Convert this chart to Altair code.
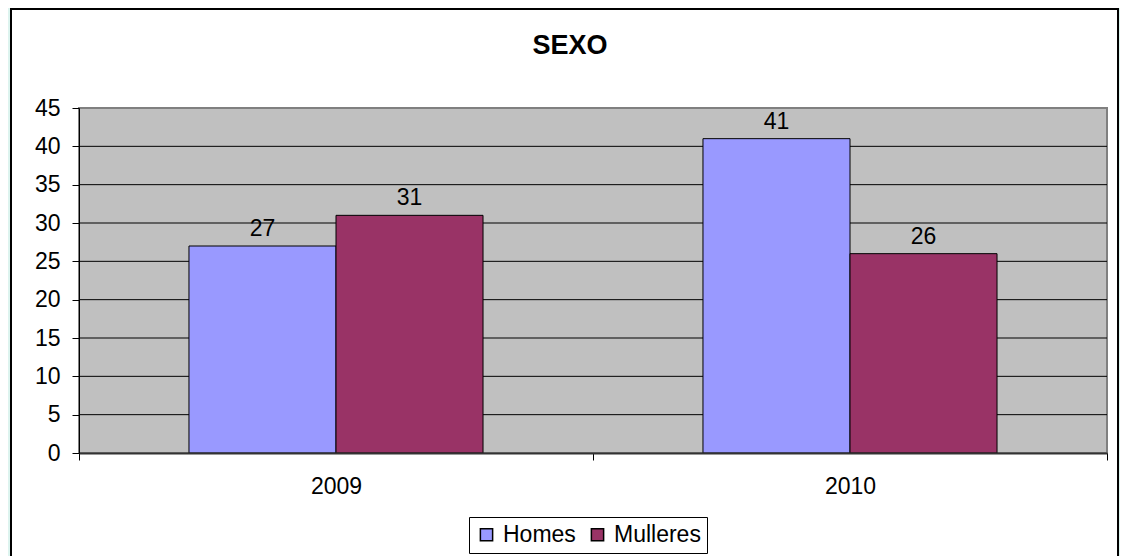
import altair as alt
import pandas as pd

years = ["2009", "2009", "2010", "2010"]
sexes = ["Homes", "Mulleres", "Homes", "Mulleres"]
values = [27, 31, 41, 26]
series_names = ["Homes", "Mulleres"]
series_colors = ["#9999FF", "#993366"]
y_ticks = [0, 5, 10, 15, 20, 25, 30, 35, 40, 45]
grid_values = [5, 10, 15, 20, 25, 30, 35, 40]
title_text = "SEXO"

FONT = "Liberation Sans"
FS = 23
W, H = 1028, 345

df = pd.DataFrame({"year": years, "sex": sexes, "value": values})
grid_df = pd.DataFrame({"value": grid_values})
dummy = alt.Data(values=[{}])

yscale = alt.Scale(domain=[0, 45], nice=False, zero=True)
yaxis = alt.Axis(
    title=None, values=y_ticks, tickSize=7, tickColor="black", domainColor="black",
    domainWidth=1, labelFontSize=FS, labelFont=FONT, labelColor="black",
    labelPadding=12, grid=False, zindex=1,
)

white_box = alt.Chart(dummy).mark_rect(
    fill="white", stroke="black", strokeWidth=2
).encode(
    x=alt.value(-68), x2=alt.value(1039), y=alt.value(-99), y2=alt.value(470)
)

plot_bg = alt.Chart(dummy).mark_rect(
    fill="#C0C0C0", stroke="#808080", strokeWidth=2
).encode(
    x=alt.value(0), x2=alt.value(W), y=alt.value(0), y2=alt.value(H)
)

grid = alt.Chart(grid_df).mark_rule(color="black", strokeWidth=1).encode(
    y=alt.Y("value:Q", scale=yscale, axis=yaxis),
    x=alt.value(0), x2=alt.value(W),
)

xaxis = alt.Axis(
    title=None, labelAngle=0, tickBand="extent", tickSize=7, tickColor="black",
    domainColor="#333333", domainWidth=2, labelFontSize=FS, labelFont=FONT,
    labelColor="black", labelPadding=15, zindex=1,
)

base = alt.Chart(df).encode(
    x=alt.X("year:N", scale=alt.Scale(paddingInner=0, paddingOuter=0), axis=xaxis),
    xOffset=alt.XOffset("sex:N", scale=alt.Scale(domain=series_names, paddingInner=0, paddingOuter=0.748)),
    y=alt.Y("value:Q", scale=yscale, axis=yaxis),
)

bars = base.mark_bar(stroke="black", strokeWidth=1).encode(
    color=alt.Color(
        "sex:N",
        scale=alt.Scale(domain=series_names, range=series_colors),
        legend=alt.Legend(
            title=None, orient="none", legendX=390, legendY=409, direction="horizontal",
            symbolType="square", symbolSize=150, symbolStrokeColor="black",
            symbolStrokeWidth=1.5, labelFontSize=FS, labelFont=FONT, labelColor="black",
            strokeColor="black", fillColor="white", padding=6, columnPadding=10,
            labelOffset=5,
        ),
    )
)

labels = base.mark_text(
    dy=-10, baseline="alphabetic", fontSize=FS, font=FONT, color="black"
).encode(text="value:Q")

title = alt.Chart(dummy).mark_text(
    text=title_text, fontSize=27, fontWeight="bold", font=FONT, color="black",
    baseline="middle", align="center"
).encode(x=alt.value(491), y=alt.value(-62))

chart = alt.layer(white_box, plot_bg, grid, bars, labels, title).properties(
    width=W, height=H,
    padding={"left": 71, "top": 100, "right": 13, "bottom": 103},
    autosize=alt.AutoSizeParams(type="none"),
).configure(background="#DDF4EF").configure_view(stroke=None)

chart.save("out.html", embed_options={"renderer": "svg", "actions": False})
